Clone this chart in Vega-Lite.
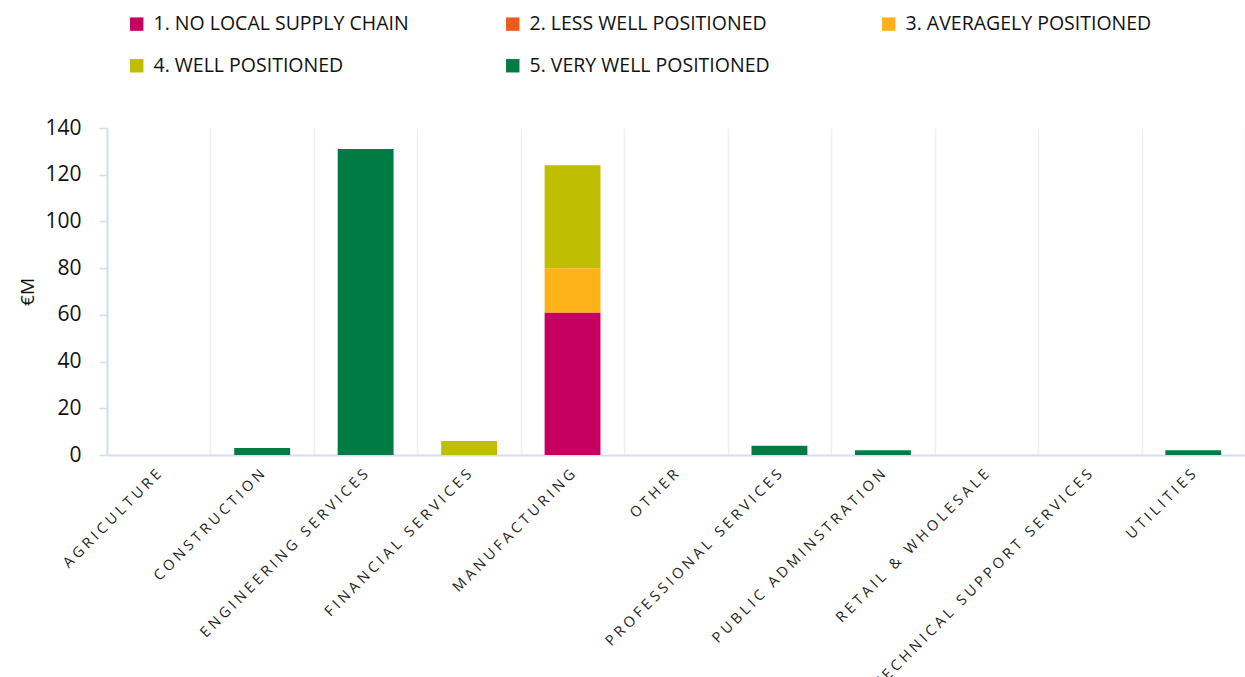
{
  "$schema": "https://vega.github.io/schema/vega-lite/v6.json",
  "width": 1138,
  "height": 327,
  "autosize": {"type": "none"},
  "padding": {"left": 107, "top": 128, "right": 0, "bottom": 222},
  "background": "white",
  "config": {
    "font": "Open Sans",
    "view": {"stroke": null}
  },
  "data": {
    "values": [
      {"sector": "Agriculture", "level": "5. Very well positioned", "value": 0},
      {"sector": "Construction", "level": "5. Very well positioned", "value": 3},
      {"sector": "Engineering Services", "level": "5. Very well positioned", "value": 131},
      {"sector": "Financial Services", "level": "4. Well positioned", "value": 6},
      {"sector": "Manufacturing", "level": "1. No local supply chain", "value": 61},
      {"sector": "Manufacturing", "level": "3. Averagely positioned", "value": 19},
      {"sector": "Manufacturing", "level": "4. Well positioned", "value": 44},
      {"sector": "Other", "level": "5. Very well positioned", "value": 0},
      {"sector": "Professional Services", "level": "5. Very well positioned", "value": 4},
      {"sector": "Public Adminstration", "level": "5. Very well positioned", "value": 2},
      {"sector": "Retail & Wholesale", "level": "5. Very well positioned", "value": 0},
      {"sector": "Technical Support Services", "level": "5. Very well positioned", "value": 0},
      {"sector": "Utilities", "level": "5. Very well positioned", "value": 2}
    ]
  },
  "mark": {"type": "bar", "width": {"band": 0.54}},
  "encoding": {
    "x": {
      "field": "sector",
      "type": "nominal",
      "sort": null,
      "scale": {"paddingInner": 0, "paddingOuter": 0},
      "axis": {
        "title": null,
        "tickBand": "extent",
        "grid": true,
        "gridColor": "#eeeeee",
        "gridWidth": 1.5,
        "ticks": false,
        "domainColor": "#d3ddf3",
        "domainWidth": 2,
        "labelAngle": -45,
        "labelAlign": "right",
        "labelBaseline": "middle",
        "labelPadding": 17,
        "labelFontSize": 14.5,
        "labelColor": "#222222",
        "labelLimit": 400,
        "labelExpr": "replace(upper(datum.label), /(.)(?=.)/g, '$1\u2005')"
      }
    },
    "y": {
      "field": "value",
      "type": "quantitative",
      "stack": "zero",
      "scale": {"domain": [0, 140], "nice": false},
      "axis": {
        "title": "€M",
        "titleFontSize": 19,
        "titleFontWeight": "normal",
        "titleColor": "#111111",
        "titlePadding": 7,
        "values": [0, 20, 40, 60, 80, 100, 120, 140],
        "grid": false,
        "domainColor": "#d3ddf3",
        "domainWidth": 2,
        "tickColor": "#d3ddf3",
        "tickSize": 8,
        "tickWidth": 1.5,
        "labelFontSize": 21,
        "labelColor": "#111111",
        "labelPadding": 18
      }
    },
    "color": {
      "field": "level",
      "type": "nominal",
      "scale": {
        "domain": ["1. No local supply chain", "2. Less well positioned", "3. Averagely positioned", "4. Well positioned", "5. Very well positioned"],
        "range": ["#c6005e", "#ee5a1c", "#ffb217", "#bfbe00", "#007b44"]
      },
      "legend": {
        "title": null,
        "orient": "none",
        "legendX": 20,
        "legendY": -114,
        "direction": "horizontal",
        "columns": 3,
        "gridAlign": "all",
        "columnPadding": 94,
        "rowPadding": 21,
        "padding": 0,
        "symbolType": "square",
        "symbolSize": 180,
        "symbolStrokeWidth": 0,
        "labelFontSize": 19.5,
        "labelColor": "#111111",
        "labelOffset": 7,
        "labelLimit": 400,
        "labelExpr": "upper(datum.label)"
      }
    },
    "order": {"field": "level", "sort": "ascending"}
  }
}
